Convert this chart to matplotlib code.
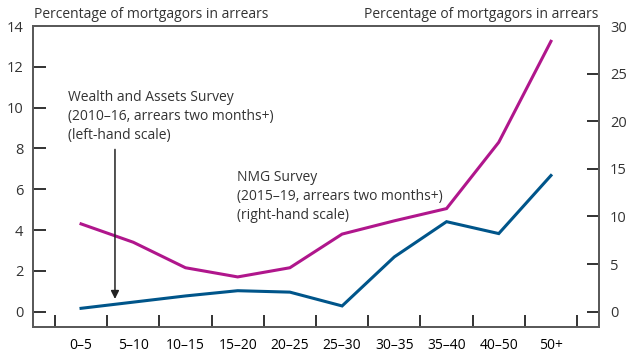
import matplotlib.pyplot as plt

plt.rcParams["font.family"] = ["Open Sans", "DejaVu Sans"]

# Age bands (years since mortgage origination)
bandas = ["0–5", "5–10", "10–15", "15–20", "20–25", "25–30",
          "30–35", "35–40", "40–50", "50+"]
# Wealth and Assets Survey, left-hand scale
was = [4.3, 3.4, 2.15, 1.7, 2.15, 3.8, 4.45, 5.05, 8.3, 13.25]
# NMG Survey, right-hand scale
nmg = [0.35, 1.0, 1.65, 2.2, 2.05, 0.6, 5.75, 9.45, 8.2, 14.3]

MAGENTA = "#b0168c"
AZUL = "#00558a"
GRIS = "#5a5a5a"
TEXTO = "#333333"

fig = plt.figure(figsize=(6.33, 3.52), dpi=100)
ax = fig.add_axes([33 / 633, 1 - 326.7 / 352, 566 / 633, 300.7 / 352])
ax2 = ax.twinx()

x = range(len(bandas))
ax.plot(x, was, color=MAGENTA, lw=2.2, solid_joinstyle="miter")
ax2.plot(x, nmg, color=AZUL, lw=2.2, solid_joinstyle="miter")

ax.set_xlim(-0.92, 9.92)
ax.set_ylim(-0.74, 14)
ax2.set_ylim(-1.58, 30)

ax.set_yticks(range(0, 15, 2))
ax2.set_yticks(range(0, 31, 5))
ax.set_xticks([i - 0.5 for i in range(len(bandas) + 1)])
ax.set_xticklabels([])
ax.set_xticks(list(x), bandas, minor=True)

for a in (ax, ax2):
    for s in a.spines.values():
        s.set_color(GRIS)
        s.set_linewidth(1.4)
    a.tick_params(colors=TEXTO, labelsize=10.5)

ax.tick_params(axis="y", direction="in", length=9, width=1.3, color="#222222",
               pad=7)
ax.tick_params(axis="x", which="major", direction="in", length=9, width=1.3,
               color="#222222")
ax.tick_params(axis="x", which="minor", length=0, pad=8, labelsize=10)
ax2.tick_params(axis="y", direction="in", length=9, width=1.3, color="#222222",
                pad=8)

fig.text(34 / 633, 1 - 14 / 352, "Percentage of mortgagors in arrears",
         fontsize=10, color=TEXTO, va="center", ha="left")
fig.text(598 / 633, 1 - 14 / 352, "Percentage of mortgagors in arrears",
         fontsize=10, color=TEXTO, va="center", ha="right")

ax.text(-0.25, 10.85, "Wealth and Assets Survey\n(2010–16, arrears two months+)\n(left-hand scale)",
        fontsize=10, color=TEXTO, va="top", ha="left", linespacing=1.35)
ax.text(2.99, 6.95, "NMG Survey\n(2015–19, arrears two months+)\n(right-hand scale)",
        fontsize=10, color=TEXTO, va="top", ha="left", linespacing=1.35)

ax.annotate("", xy=(0.65, 0.62), xytext=(0.65, 7.95),
            arrowprops=dict(arrowstyle="-|>", color="#222222", lw=1.1,
                            mutation_scale=12, shrinkA=0, shrinkB=0))

fig.savefig("out.png", dpi=100)
